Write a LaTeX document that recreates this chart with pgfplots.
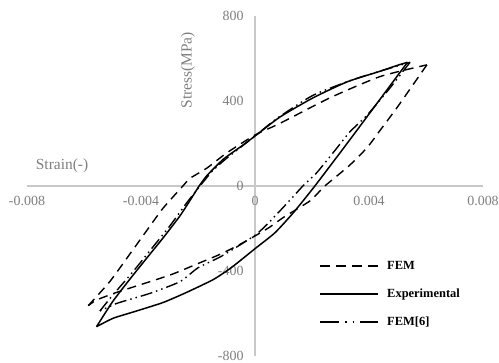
\documentclass[border=0pt]{standalone}
\usepackage{pgfplots}
\pgfplotsset{compat=1.18}
\usepackage{fontspec}
\setmainfont{Liberation Serif}
\definecolor{axgray}{HTML}{C8C8C8}
\definecolor{txtgray}{HTML}{7F7F7F}
\begin{document}
\begin{tikzpicture}
\useasboundingbox (-27bp,-7bp) rectangle (472bp,356bp);
\begin{axis}[
  at={(0,0)}, anchor=south west,
  scale only axis, width=456bp, height=340bp,
  xmin=-0.008, xmax=0.008, ymin=-800, ymax=800,
  axis lines=middle,
  axis line style={draw=axgray, line width=1.2pt, -},
  clip=false,
  scaled x ticks=false, scaled y ticks=false,
  xtick={-0.008,-0.004,0,0.004,0.008},
  xticklabels={-0.008,-0.004,0,0.004,0.008},
  ytick={-800,-400,0,400,800},
  yticklabels={-800,-400,0,400,800},
  hide obscured x ticks=false, hide obscured y ticks=false,
  major tick length=0pt,
  tick label style={font=\fontsize{14}{16}\selectfont, text=txtgray},
  xticklabel style={anchor=north, yshift=-7bp},
  yticklabel style={anchor=east, xshift=-8bp},
  legend style={at={(axis cs:0.00225,-0.0)}, anchor=north west, yshift=-73bp,
    draw=none, fill=none, font=\bfseries\fontsize{12.5}{14}\selectfont,
    row sep=14bp, inner sep=0pt},
  legend cell align=left,
  legend image code/.code={\draw[#1] (0bp,0bp) -- (58bp,0bp); \path[draw=none] (0bp,0bp) -- (65bp,0bp);},
  every axis plot/.append style={smooth, tension=0.35},
]
\addlegendimage{black, line width=1.6bp, dash pattern=on 10bp off 6bp}
\addlegendentry{FEM}
\addlegendimage{black, line width=1.8bp}
\addlegendentry{Experimental}
\addlegendimage{black, line width=1.6bp, dash pattern=on 19bp off 6bp on 1.5bp off 6bp on 1.5bp off 6bp}
\addlegendentry{FEM[6]}

% FEM (dashed)
\addplot[black, line width=1.4bp, dash pattern=on 9bp off 6bp, forget plot] coordinates {
(-0.00585,-563) (-0.00509,-449) (-0.00439,-320) (-0.00380,-210) (-0.00323,-105)
(-0.00253,0) (-0.00228,36) (-0.00168,85) (-0.00100,155) (0,240) (0.00088,295)
(0.00263,415) (0.00439,515) (0.00603,570)
};
\addplot[black, line width=1.4bp, dash pattern=on 9bp off 6bp, forget plot] coordinates {
(0.00603,570) (0.00500,372) (0.00439,262) (0.00393,180) (0.00330,95) (0.00245,0)
(0.00193,-70) (0.00105,-143) (0.00050,-195) (0,-235) (-0.00060,-280) (-0.00120,-320)
(-0.00200,-365) (-0.00290,-415) (-0.00380,-455) (-0.00484,-500) (-0.00555,-536) (-0.00585,-563)
};
% Experimental (solid)
\addplot[black, line width=1.5bp, forget plot] coordinates {
(-0.00556,-662) (-0.00500,-545) (-0.00440,-440) (-0.00379,-338) (-0.00320,-240)
(-0.00263,-140) (-0.00228,-68) (-0.00196,0) (-0.00168,50) (-0.00112,125) (-0.00050,185)
(0,235) (0.00088,325) (0.00204,415) (0.00323,490) (0.00439,540) (0.00500,568) (0.00535,582)
};
\addplot[black, line width=1.5bp, forget plot] coordinates {
(0.00535,582) (0.00428,389) (0.00323,200) (0.00210,0) (0.00135,-125) (0.00070,-220) (0,-295)
(-0.00082,-383) (-0.00146,-440) (-0.00239,-500) (-0.00322,-548) (-0.00420,-590)
(-0.00497,-622) (-0.00556,-662)
};
% FEM[6] (dash-dot-dot)
\addplot[black, line width=1.4bp, dash pattern=on 12bp off 4bp on 1.5bp off 4bp on 1.5bp off 4bp, forget plot] coordinates {
(-0.00544,-588) (-0.00500,-515) (-0.00428,-403) (-0.00360,-290) (-0.00300,-190)
(-0.00240,-80) (-0.00193,0) (-0.00150,70) (-0.00100,130) (0,235) (0.00077,318)
(0.00204,427) (0.00358,507) (0.00544,582)
};
\addplot[black, line width=1.4bp, dash pattern=on 12bp off 4bp on 1.5bp off 4bp on 1.5bp off 4bp, forget plot] coordinates {
(0.00544,582) (0.00470,455) (0.00393,333) (0.00333,255) (0.00281,168) (0.00215,60) (0.00168,0)
(0.00112,-82) (0.00050,-170) (0,-232) (-0.00117,-330) (-0.00200,-385) (-0.00263,-450)
(-0.00368,-505) (-0.00484,-552) (-0.00544,-588)
};

\node[rotate=90, text=txtgray, font=\fontsize{15.5}{17}\selectfont] at (axis cs:-0.00235,545) {Stress(MPa)};
\node[text=txtgray, font=\fontsize{15.5}{17}\selectfont] at (axis cs:-0.00677,97) {Strain(-)};
\end{axis}
\end{tikzpicture}
\end{document}
